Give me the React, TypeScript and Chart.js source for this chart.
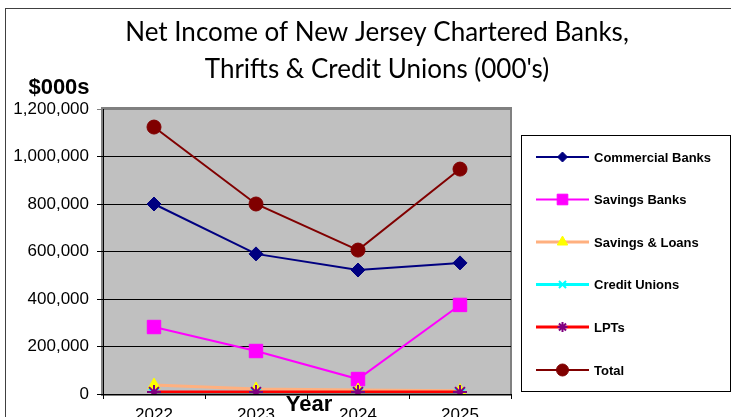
import React, { useEffect, useRef } from "react";
import { Chart, registerables } from "chart.js";
import { drawPoint } from "chart.js/helpers";

Chart.register(...registerables);

const years = ["2022", "2023", "2024", "2025"];
const commercialBanks = [800000, 590000, 522000, 552000];
const savingsBanks = [282000, 181000, 63000, 375000];
const savingsLoans = [38000, 21000, 17000, 14000];
const creditUnions = [2000, 2000, 2000, 2000];
const lpts = [8000, 8000, 8000, 8000];
const totals = [1124000, 800000, 606000, 947000];
const yTicks = [0, 200000, 400000, 600000, 800000, 1000000, 1200000];
const titleLines = ["Net Income of New Jersey Chartered Banks,", "Thrifts & Credit Unions (000's)"];
const yAxisTitle = "$000s";
const xAxisTitle = "Year";

type Series = {
  label: string;
  data: number[];
  line: string;
  style: string;
  fill: string;
  stroke: string;
  radius: number;
  legendRadius: number;
  lineWidth: number;
  pointBorderWidth: number;
};

const series: Series[] = [
  { label: "Commercial Banks", data: commercialBanks, line: "#000080", style: "rectRot", fill: "#000080", stroke: "#000080", radius: 7, legendRadius: 5, lineWidth: 2, pointBorderWidth: 1 },
  { label: "Savings Banks", data: savingsBanks, line: "#FF00FF", style: "rect", fill: "#FF00FF", stroke: "#FF00FF", radius: 9.5, legendRadius: 7.5, lineWidth: 2, pointBorderWidth: 1 },
  { label: "Savings & Loans", data: savingsLoans, line: "#FFB07F", style: "triangle", fill: "#FFFF00", stroke: "#FFFF00", radius: 7, legendRadius: 6, lineWidth: 3, pointBorderWidth: 1 },
  { label: "Credit Unions", data: creditUnions, line: "#00FFFF", style: "crossRot", fill: "#00FFFF", stroke: "#00FFFF", radius: 7, legendRadius: 5, lineWidth: 3, pointBorderWidth: 2 },
  { label: "LPTs", data: lpts, line: "#FF0000", style: "star", fill: "#800080", stroke: "#800080", radius: 7, legendRadius: 5, lineWidth: 3, pointBorderWidth: 2 },
  { label: "Total", data: totals, line: "#800000", style: "circle", fill: "#800000", stroke: "#800000", radius: 7, legendRadius: 6, lineWidth: 2, pointBorderWidth: 1 },
];

const ARIAL = "'Liberation Sans', Arial, sans-serif";

const decorPlugin = {
  id: "decor",
  beforeDraw(chart: any) {
    const { ctx, chartArea: a, width, height } = chart;
    ctx.save();
    ctx.fillStyle = "#FFFFFF";
    ctx.fillRect(0, 0, width, height);
    ctx.strokeStyle = "#404040";
    ctx.lineWidth = 1;
    ctx.strokeRect(5.5, 8.5, width + 20, height + 20);
    ctx.fillStyle = "#C0C0C0";
    ctx.fillRect(a.left, a.top, a.right - a.left, a.bottom - a.top);
    ctx.strokeStyle = "#808080";
    ctx.lineWidth = 2;
    ctx.strokeRect(a.left - 1, a.top - 1, a.right - a.left + 1, a.bottom - a.top + 2);
    ctx.restore();
  },
  afterDraw(chart: any) {
    const { ctx } = chart;
    ctx.save();
    ctx.fillStyle = "#000000";
    ctx.textAlign = "center";
    ctx.textBaseline = "middle";
    ctx.font = "26px Lato, 'Open Sans', sans-serif";
    ctx.fillText(titleLines[0], 377, 33);
    ctx.fillText(titleLines[1], 377, 70);

    ctx.font = `bold 22px ${ARIAL}`;
    ctx.fillText(yAxisTitle, 59, 88);
    ctx.fillText(xAxisTitle, 309, 405);

    // legend
    ctx.strokeStyle = "#000000";
    ctx.lineWidth = 1;
    ctx.fillStyle = "#FFFFFF";
    ctx.fillRect(521.5, 135.5, 209, 256);
    ctx.strokeRect(521.5, 135.5, 209, 256);
    const ys = [157, 199.5, 242, 284.5, 327, 370];
    series.forEach((s, i) => {
      const y = ys[i];
      ctx.beginPath();
      ctx.strokeStyle = s.line;
      ctx.lineWidth = s.lineWidth === 2 ? 2 : 3;
      ctx.moveTo(536, y);
      ctx.lineTo(589, y);
      ctx.stroke();
      ctx.fillStyle = s.fill;
      ctx.strokeStyle = s.stroke;
      ctx.lineWidth = s.pointBorderWidth;
      drawPoint(ctx, { pointStyle: s.style as any, radius: s.legendRadius, rotation: 0, borderWidth: s.pointBorderWidth }, 562.5, y);
      ctx.fillStyle = "#000000";
      ctx.textAlign = "left";
      ctx.font = `bold 13px ${ARIAL}`;
      ctx.fillText(s.label, 594, y + 1);
    });
    ctx.restore();
  },
};

export default function App() {
  const ref = useRef<HTMLCanvasElement | null>(null);

  useEffect(() => {
    document.body.style.margin = "0";
    const canvas = ref.current!;
    const chart = new Chart(canvas, {
      type: "line",
      data: {
        labels: years,
        datasets: series.map((s, i) => ({
          label: s.label,
          data: s.data,
          borderColor: s.line,
          backgroundColor: s.fill,
          borderWidth: s.lineWidth,
          pointStyle: s.style as any,
          pointRadius: s.radius,
          pointBackgroundColor: s.fill,
          pointBorderColor: s.stroke,
          pointBorderWidth: s.pointBorderWidth,
          tension: 0,
          fill: false,
          order: series.length - i,
        })),
      },
      options: {
        animation: false,
        responsive: false,
        events: [],
        layout: { padding: { top: 109, right: 220, bottom: 6, left: 0 } },
        plugins: { legend: { display: false }, tooltip: { enabled: false }, title: { display: false } },
        scales: {
          x: {
            type: "category",
            offset: true,
            grid: { offset: true, drawOnChartArea: false, drawTicks: true, tickLength: 5, color: "#000000" },
            border: { color: "#000000", width: 1 },
            ticks: { color: "#000000", font: { family: ARIAL, size: 17 }, padding: 6, maxRotation: 0 },
            afterFit: (s: any) => {
              s.height = 40;
            },
          },
          y: {
            min: 0,
            max: 1200000,
            afterBuildTicks: (s: any) => {
              s.ticks = yTicks.map((v) => ({ value: v }));
            },
            grid: {
              color: (c: any) => (c.tick && c.tick.value === 1200000 ? "#808080" : "#000000"),
              tickLength: 6,
              lineWidth: 1,
            },
            border: { color: "#000000", width: 1 },
            ticks: {
              color: "#000000",
              font: { family: ARIAL, size: 17 },
              padding: 8,
              callback: (v: any) => Number(v).toLocaleString("en-US"),
            },
            afterFit: (s: any) => {
              s.width = 103;
            },
          },
        },
      },
      plugins: [decorPlugin],
    });
    return () => chart.destroy();
  }, []);

  return (
    <div style={{ width: 731, height: 417, overflow: "hidden", position: "relative" }}>
      <canvas ref={ref} width={731} height={440} style={{ display: "block" }} />
    </div>
  );
}
